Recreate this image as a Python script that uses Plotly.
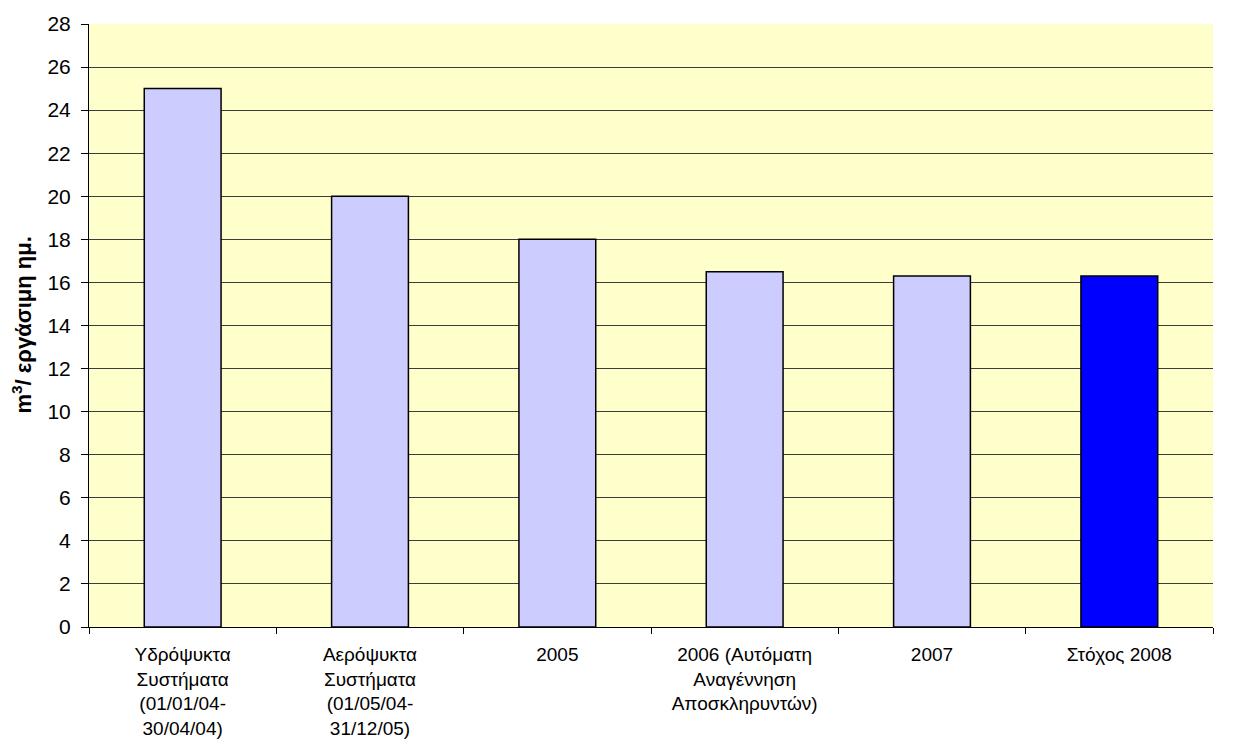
#!/usr/bin/env python
# coding: utf-8

import plotly.graph_objects as go

# --- data ---
categories = [
    'Υδρόψυκτα<br>Συστήματα<br>(01/01/04-<br>30/04/04)',
    'Αερόψυκτα<br>Συστήματα<br>(01/05/04-<br>31/12/05)',
    '2005',
    '2006 (Αυτόματη<br>Αναγέννηση<br>Αποσκληρυντών)',
    '2007',
    'Στόχος 2008',
]
values = [25, 20, 18, 16.5, 16.3, 16.3]
bar_colors = ['#CCCCFF', '#CCCCFF', '#CCCCFF', '#CCCCFF', '#CCCCFF', '#0000FF']
y_ticks = list(range(0, 29, 2))
y_title = "<b>m<sup>3</sup>/ εργάσιμη ημ.</b>"

FONT = "Liberation Sans, Arial, sans-serif"

# the page adds an 8px body margin, so the figure is sized to fit inside it
W, H = 1218, 735
ML, MR, MT, MB = 81, 13, 16, 116

fig = go.Figure()
fig.add_trace(go.Bar(
    x=categories,
    y=values,
    marker=dict(color=bar_colors, line=dict(color="black", width=1.5)),
    width=0.41,
))

#--- axes
fig.update_xaxes(
    showline=True, linecolor="black", linewidth=1,
    ticks="outside", tickson="boundaries", ticklen=6, tickcolor="black",
    showgrid=False,
    tickfont=dict(size=19, color="black"),
    ticklabelstandoff=10,
)
fig.update_yaxes(
    range=[0, 28], tickvals=y_ticks,
    showline=True, linecolor="black", linewidth=1,
    ticks="outside", ticklen=7, tickcolor="black",
    showgrid=True, gridcolor="#3c3c3c", gridwidth=1,
    zeroline=False,
    tickfont=dict(size=21, color="black"),
    ticklabelstandoff=6,
)

#--- y title as rotated annotation
plot_w = W - ML - MR
fig.add_annotation(
    text=y_title, textangle=-90,
    xref="paper", yref="paper", x=(13 - ML) / plot_w, y=0.5,
    xanchor="center", yanchor="middle", showarrow=False,
    font=dict(size=22, color="black"),
)

#--- layout
fig.update_layout(
    width=W, height=H,
    margin=dict(l=ML, r=MR, t=MT, b=MB, autoexpand=False),
    plot_bgcolor="#FFFFCC", paper_bgcolor="white",
    font=dict(family=FONT, color="black"),
    showlegend=False,
    bargap=0.59,
)

fig.write_html("out.html")
